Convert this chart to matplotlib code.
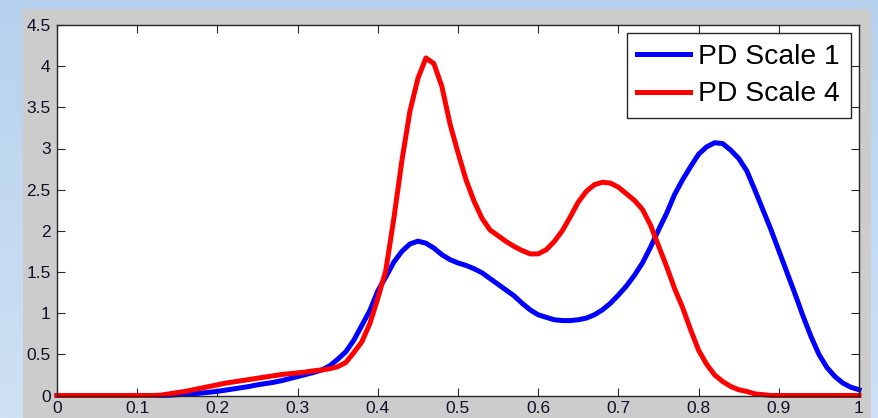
import numpy as np
import matplotlib
matplotlib.use("Agg")
import matplotlib.pyplot as plt
from matplotlib.patches import Rectangle
from matplotlib.colors import LinearSegmentedColormap

plt.rcParams['font.family'] = ['Liberation Sans', 'DejaVu Sans']

# ---------------- data ----------------
x_vals = [0.00, 0.10, 0.11, 0.12, 0.13, 0.14, 0.15, 0.16, 0.17, 0.18, 0.19,
          0.20, 0.21, 0.22, 0.23, 0.24, 0.25, 0.26, 0.27, 0.28, 0.29,
          0.30, 0.31, 0.32, 0.33, 0.34, 0.35, 0.36, 0.37, 0.38, 0.39,
          0.40, 0.41, 0.42, 0.43, 0.44, 0.45, 0.46, 0.47, 0.48, 0.49,
          0.50, 0.51, 0.52, 0.53, 0.54, 0.55, 0.56, 0.57, 0.58, 0.59,
          0.60, 0.61, 0.62, 0.63, 0.64, 0.65, 0.66, 0.67, 0.68, 0.69,
          0.70, 0.71, 0.72, 0.73, 0.74, 0.75, 0.76, 0.77, 0.78, 0.79,
          0.80, 0.81, 0.82, 0.83, 0.84, 0.85, 0.86, 0.87, 0.88, 0.89,
          0.90, 0.91, 0.92, 0.93, 0.94, 0.95, 0.96, 0.97, 0.98, 0.99,
          1.00]

pd_scale_1 = [0.0, 0.0, 0.0, 0.0, 0.0, 0.003, 0.01, 0.015, 0.02, 0.03, 0.04,
              0.05, 0.065, 0.08, 0.095, 0.11, 0.13, 0.145, 0.16, 0.18, 0.205,
              0.23, 0.255, 0.28, 0.31, 0.36, 0.44, 0.53, 0.67, 0.85, 1.03,
              1.27, 1.44, 1.62, 1.75, 1.84, 1.875, 1.85, 1.79, 1.71, 1.65,
              1.61, 1.58, 1.54, 1.49, 1.42, 1.35, 1.28, 1.21, 1.12, 1.04,
              0.98, 0.95, 0.92, 0.91, 0.91, 0.92, 0.94, 0.98, 1.04, 1.12,
              1.22, 1.33, 1.46, 1.61, 1.80, 2.01, 2.21, 2.44, 2.62, 2.78,
              2.93, 3.02, 3.07, 3.06, 2.98, 2.88, 2.73, 2.50, 2.26, 2.02,
              1.76, 1.50, 1.24, 0.97, 0.72, 0.50, 0.34, 0.23, 0.15, 0.10,
              0.07]

pd_scale_4 = [0.0, 0.0, 0.0, 0.0, 0.005, 0.02, 0.035, 0.05, 0.07, 0.09, 0.11,
              0.13, 0.15, 0.165, 0.18, 0.195, 0.21, 0.225, 0.24, 0.255, 0.265,
              0.275, 0.285, 0.30, 0.31, 0.325, 0.35, 0.40, 0.52, 0.65, 0.87,
              1.18, 1.52, 2.15, 2.85, 3.45, 3.85, 4.10, 4.03, 3.75, 3.30,
              2.95, 2.62, 2.36, 2.15, 2.01, 1.94, 1.87, 1.81, 1.76, 1.72,
              1.72, 1.77, 1.87, 2.00, 2.17, 2.35, 2.48, 2.56, 2.59, 2.58,
              2.53, 2.45, 2.37, 2.26, 2.07, 1.82, 1.57, 1.30, 1.07, 0.80,
              0.55, 0.38, 0.25, 0.17, 0.11, 0.07, 0.05, 0.02, 0.01, 0.0,
              0.0, 0.0, 0.0, 0.0, 0.0, 0.0, 0.0, 0.0, 0.0, 0.0,
              0.0]

series_labels = ["PD Scale 1", "PD Scale 4"]
x_ticks = [0, 0.1, 0.2, 0.3, 0.4, 0.5, 0.6, 0.7, 0.8, 0.9, 1]
x_tick_labels = ["0", "0.1", "0.2", "0.3", "0.4", "0.5", "0.6", "0.7", "0.8", "0.9", "1"]
y_ticks = [0, 0.5, 1, 1.5, 2, 2.5, 3, 3.5, 4, 4.5]
y_tick_labels = ["0", "0.5", "1", "1.5", "2", "2.5", "3", "3.5", "4", "4.5"]

# ---------------- figure ----------------
W, H = 879, 418
fig = plt.figure(figsize=(W / 100, H / 100), dpi=100)

# light-blue gradient background
bg = fig.add_axes([0, 0, 1, 1], zorder=-10)
grad = np.linspace(0, 1, 256).reshape(-1, 1)
cmap_bg = LinearSegmentedColormap.from_list("bg", ["#b6d2ee", "#cfe1f3"])
bg.imshow(grad, aspect="auto", cmap=cmap_bg, extent=[0, 1, 0, 1], origin="upper")
bg.set_axis_off()

# gray panel
fig.patches.append(Rectangle((23 / W, 0), (871 - 23) / W, 1 - 9 / H,
                             transform=fig.transFigure, facecolor="#cccccc",
                             edgecolor="none", zorder=-5))

ax = fig.add_axes([57 / W, 1 - 395.5 / H, (859 - 57) / W, (395.5 - 25) / H])
ax.set_facecolor("white")

ax.plot(x_vals, pd_scale_1, color="#0000ff", lw=3.6, label=series_labels[0],
        clip_on=False, solid_joinstyle="round")
ax.plot(x_vals, pd_scale_4, color="#ff0000", lw=3.6, label=series_labels[1],
        clip_on=False, solid_joinstyle="round")

ax.set_xlim(0, 1)
ax.set_ylim(0, 4.5)
ax.set_xticks(x_ticks)
ax.set_xticklabels(x_tick_labels)
ax.set_yticks(y_ticks)
ax.set_yticklabels(y_tick_labels)

ax.tick_params(direction="in", length=6, width=0.8, colors="#262626",
               labelcolor="#101028", labelsize=12.5, top=True, right=True)
ax.tick_params(axis="x", pad=4)
ax.tick_params(axis="y", pad=4.5)
for s in ax.spines.values():
    s.set_color("#262626")
    s.set_linewidth(1.0)

leg = ax.legend(loc="upper right", fontsize=20.3, frameon=True, fancybox=False,
                edgecolor="#262626", framealpha=1, borderaxespad=0.3,
                handlelength=1.85, handletextpad=0.3, borderpad=0.38,
                labelspacing=0.4)
leg.get_frame().set_linewidth(1.0)
for line in leg.get_lines():
    line.set_linewidth(3.6)

fig.savefig("out.png", dpi=100)
